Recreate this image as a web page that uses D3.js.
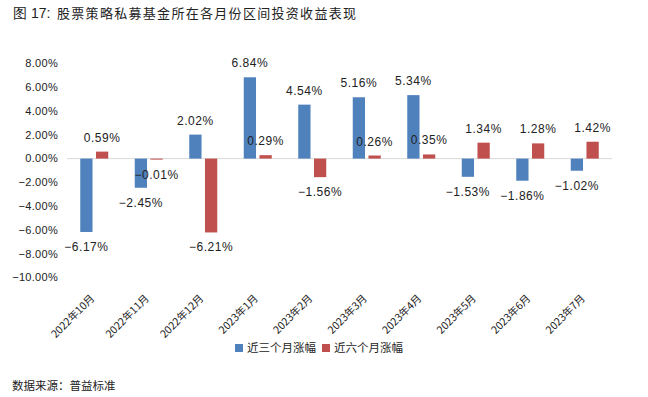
<!DOCTYPE html>
<html>
<head>
<meta charset="utf-8">
<script src="https://cdn.jsdelivr.net/npm/d3@7"></script>
<style>
  body { margin: 0; background: #fff; }
  svg { display: block; }
</style>
</head>
<body>
<div id="chart"></div>
<script>
var months = ["2022年10月", "2022年11月", "2022年12月", "2023年1月", "2023年2月",
              "2023年3月", "2023年4月", "2023年5月", "2023年6月", "2023年7月"];
var series = ["近三个月涨幅", "近六个月涨幅"];
var threeMonth = [-6.17, -2.45, 2.02, 6.84, 4.54, 5.16, 5.34, -1.53, -1.86, -1.02];
var sixMonth = [0.59, -0.01, -6.21, 0.29, -1.56, 0.26, 0.35, 1.34, 1.28, 1.42];
var yTicks = [8, 6, 4, 2, 0, -2, -4, -6, -8, -10];
var colors = ["#4f81bd", "#c0504d"];

var w = 648;
var h = 397;
var cjk = "'Noto Sans CJK SC', 'Noto Sans', sans-serif";
var num = "'Liberation Sans', Arial, sans-serif";

var svg = d3.select("#chart")
            .append("svg")
            .attr("width", w)
            .attr("height", h);

// title
var title = svg.append("text")
   .attr("y", 18)
   .style("font-family", cjk)
   .style("font-size", "13px")
   .style("fill", "#222");
title.append("tspan")
   .attr("x", 13)
   .style("font-family", num)
   .style("font-size", "14px")
   .text("图 17:");
title.append("tspan")
   .attr("x", 57)
   .style("letter-spacing", "1.3px")
   .text("股票策略私募基金所在各月份区间投资收益表现");

var x0 = d3.scaleBand()
           .domain(months)
           .range([67, 612])
           .padding(0);

var x1 = d3.scaleBand()
           .domain(series)
           .range([0, 28])
           .paddingInner(0.22);

var y = d3.scaleLinear()
          .domain([-10, 8])
          .range([277.5, 63.5]);

// y tick labels
svg.append("g").selectAll("text")
   .data(yTicks)
   .enter()
   .append("text")
   .attr("x", 58)
   .attr("y", d => y(d))
   .attr("dy", "0.35em")
   .attr("text-anchor", "end")
   .style("font-family", num)
   .style("font-size", "11px")
   .style("letter-spacing", "0.3px")
   .style("fill", "#222")
   .text(d => d3.format(".2f")(d) + "%");

// zero line
svg.append("line")
   .attr("x1", 67)
   .attr("x2", 612)
   .attr("y1", y(0))
   .attr("y2", y(0))
   .style("stroke", "#d9d9d9")
   .style("stroke-width", 1);

var rows = [];
months.forEach(function(m, i) {
    rows.push({ month: m, key: series[0], value: threeMonth[i], color: colors[0] });
    rows.push({ month: m, key: series[1], value: sixMonth[i], color: colors[1] });
});

var offset = (x0.bandwidth() - 28) / 2;

svg.append("g").selectAll("rect")
   .data(rows)
   .enter()
   .append("rect")
   .attr("x", d => x0(d.month) + offset + x1(d.key))
   .attr("width", x1.bandwidth())
   .attr("y", d => y(Math.max(0, d.value)))
   .attr("height", d => Math.max(1, Math.abs(y(d.value) - y(0))))
   .style("fill", d => d.color);

// data labels
svg.append("g").selectAll("text")
   .data(rows)
   .enter()
   .append("text")
   .attr("x", d => x0(d.month) + offset + x1(d.key) + x1.bandwidth() / 2)
   .attr("y", d => d.value >= 0 ? y(d.value) - 10 : Math.max(y(d.value), y(0) + 1) + 19)
   .attr("text-anchor", "middle")
   .style("font-family", num)
   .style("font-size", "12px")
   .style("letter-spacing", "0.5px")
   .style("fill", "#222")
   .text(d => d3.format(".2f")(d.value) + "%");

// x labels
svg.append("g").selectAll("text")
   .data(months)
   .enter()
   .append("text")
   .attr("transform", d => "translate(" + (x0(d) + x0.bandwidth() / 2 + 1) + ",299) rotate(-45)")
   .attr("text-anchor", "end")
   .style("font-family", cjk)
   .style("font-size", "10.5px")
   .style("fill", "#222")
   .text(d => d);

// legend
var legend = svg.append("g").selectAll("g")
                .data(series)
                .enter()
                .append("g")
                .attr("transform", (d, i) => "translate(" + (235 + i * 87) + ",348)");

legend.append("rect")
      .attr("x", 0)
      .attr("y", -4)
      .attr("width", 8)
      .attr("height", 8)
      .style("fill", (d, i) => colors[i]);

legend.append("text")
      .attr("x", 12)
      .attr("dy", "0.35em")
      .style("font-family", cjk)
      .style("font-size", "11.5px")
      .style("fill", "#222")
      .text(d => d);

// source
svg.append("text")
   .attr("x", 12)
   .attr("y", 390)
   .style("font-family", cjk)
   .style("font-size", "11.5px")
   .style("fill", "#222")
   .text("数据来源：普益标准");
</script>
</body>
</html>
